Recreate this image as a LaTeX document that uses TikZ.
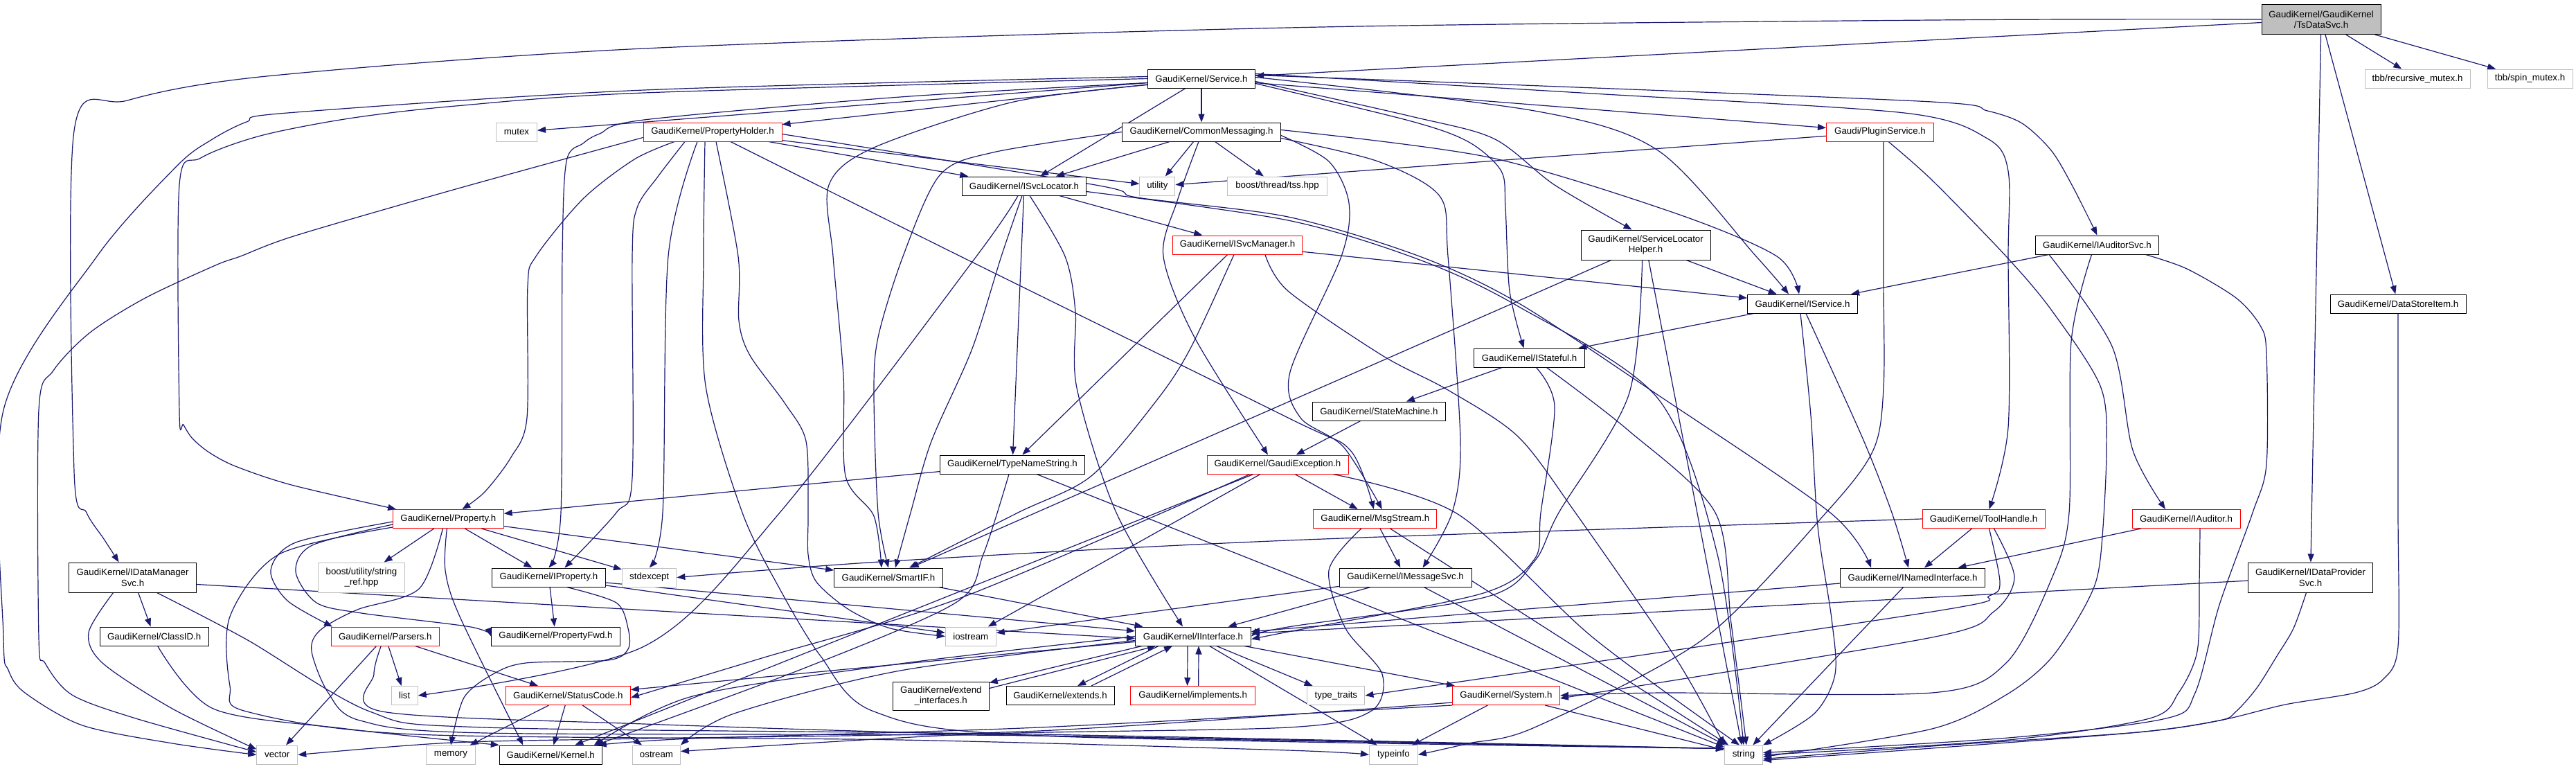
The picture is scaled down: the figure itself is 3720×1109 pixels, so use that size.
\documentclass[tikz,border=0pt]{standalone}
\usepackage{fontspec}
\setmainfont{Liberation Sans}
\usetikzlibrary{arrows.meta,backgrounds}
\definecolor{midnight}{RGB}{25,25,112}
\definecolor{grey75}{RGB}{191,191,191}
\begin{document}
\begin{tikzpicture}[x=1pt, y=-1pt,
    box/.style={draw=black, fill=white, line width=1pt, minimum width=#1, minimum height=27pt,
        inner sep=0pt, align=center, font=\fontsize{13.3}{15.5}\selectfont},
    redbox/.style={box=#1, draw=red},
    sysbox/.style={box=#1, draw=grey75},
    rootbox/.style={box=#1, fill=grey75},
    tall/.style={minimum height=43pt},
    dep/.style={draw=midnight, line width=1.2pt, -{Triangle[length=12pt,width=9pt]}}]
    \useasboundingbox (0,0) rectangle (3720,1109);
    \node[rootbox=172, tall] (ts) at (3352,28) {GaudiKernel/GaudiKernel\\/TsDataSvc.h};
    \node[box=155] (service) at (1735,113.5) {GaudiKernel/Service.h};
    \node[sysbox=152] (recmutex) at (3491,113.5) {tbb/recursive\_mutex.h};
    \node[sysbox=123] (spinmutex) at (3653.5,113.5) {tbb/spin\_mutex.h};
    \node[sysbox=59] (mutex) at (746,190.5) {mutex};
    \node[redbox=200] (pholder) at (1029,190.5) {GaudiKernel/PropertyHolder.h};
    \node[box=229] (cmsg) at (1735,190.5) {GaudiKernel/CommonMessaging.h};
    \node[redbox=155] (plugin) at (2715,190.5) {Gaudi/PluginService.h};
    \node[box=179] (svcloc) at (1479,268.5) {GaudiKernel/ISvcLocator.h};
    \node[sysbox=51] (utility) at (1671.4,268.5) {utility};
    \node[sysbox=143.5] (tss) at (1844.5,268.5) {boost/thread/tss.hpp};
    \node[redbox=187.5] (ismgr) at (1787,353.5) {GaudiKernel/ISvcManager.h};
    \node[box=187, tall] (slh) at (2376.6,353.5) {GaudiKernel/ServiceLocator\\Helper.h};
    \node[box=178] (auditorsvc) at (3028.5,353.5) {GaudiKernel/IAuditorSvc.h};
    \node[box=159] (iservice) at (2603,438.5) {GaudiKernel/IService.h};
    \node[box=196] (datastore) at (3463,438.5) {GaudiKernel/DataStoreItem.h};
    \node[box=159.5] (istateful) at (2208.5,516.5) {GaudiKernel/IStateful.h};
    \node[box=191.6] (statemachine) at (1991.4,593.5) {GaudiKernel/StateMachine.h};
    \node[box=209] (typename) at (1462,670.5) {GaudiKernel/TypeNameString.h};
    \node[redbox=204] (gaudiexc) at (1845,670.5) {GaudiKernel/GaudiException.h};
    \node[redbox=159.5] (property) at (647.4,749) {GaudiKernel/Property.h};
    \node[redbox=178] (msgstream) at (1985.8,749) {GaudiKernel/MsgStream.h};
    \node[redbox=177] (toolhandle) at (2864.5,749) {GaudiKernel/ToolHandle.h};
    \node[redbox=156] (iauditor) at (3157,749) {GaudiKernel/IAuditor.h};
    \node[box=184, tall] (datamgr) at (191.6,833.5) {GaudiKernel/IDataManager\\Svc.h};
    \node[sysbox=124.5, tall] (stringref) at (522,833.5) {boost/utility/string\\\_ref.hpp};
    \node[box=164] (iproperty) at (792.4,833.5) {GaudiKernel/IProperty.h};
    \node[sysbox=78.4] (stdexcept) at (937.7,833.5) {stdexcept};
    \node[box=156.6] (smartif) at (1283,833.5) {GaudiKernel/SmartIF.h};
    \node[box=191] (imsgsvc) at (2029.6,833.5) {GaudiKernel/IMessageSvc.h};
    \node[box=209] (inamed) at (2762,833.5) {GaudiKernel/INamedInterface.h};
    \node[box=180, tall] (dataprov) at (3336.5,833.5) {GaudiKernel/IDataProvider\\Svc.h};
    \node[box=157] (classid) at (222.7,918.5) {GaudiKernel/ClassID.h};
    \node[redbox=155.4] (parsers) at (556.3,918.5) {GaudiKernel/Parsers.h};
    \node[box=186] (propfwd) at (802.5,918.5) {GaudiKernel/PropertyFwd.h};
    \node[sysbox=73] (iostream) at (1401.8,918.5) {iostream};
    \node[box=167] (iinterface) at (1723,918.5) {GaudiKernel/IInterface.h};
    \node[sysbox=38] (list) at (584.2,1004) {list};
    \node[redbox=180] (statuscode) at (820.3,1004) {GaudiKernel/StatusCode.h};
    \node[box=139, minimum height=41pt] (extendint) at (1358.8,1004.5) {GaudiKernel/extend\\\_interfaces.h};
    \node[box=156] (extends) at (1531,1004) {GaudiKernel/extends.h};
    \node[redbox=180] (implements) at (1722.7,1004) {GaudiKernel/implements.h};
    \node[sysbox=83] (typetraits) at (1929.4,1004) {type\_traits};
    \node[redbox=155] (system) at (2175,1004) {GaudiKernel/System.h};
    \node[sysbox=59] (vector) at (400.3,1089.5) {vector};
    \node[sysbox=70.6] (memory) at (651,1089.5) {memory};
    \node[box=148] (kernel) at (795.3,1089.5) {GaudiKernel/Kernel.h};
    \node[sysbox=69] (ostream) at (948,1089.5) {ostream};
    \node[sysbox=70] (typeinfo) at (2012.4,1089.5) {typeinfo};
    \node[sysbox=55] (string) at (2518,1089.5) {string};
    \begin{pgfonlayer}{background}
    \foreach \a/\b in {ts/service, ts/recmutex, ts/spinmutex, ts/datastore, ts/dataprov,
        service/mutex, service/pholder, service/cmsg, service/plugin, service/svcloc,
        pholder/svcloc, pholder/utility, cmsg/svcloc, cmsg/utility, cmsg/tss, plugin/utility,
        svcloc/ismgr, svcloc/typename, ismgr/iservice, ismgr/typename,
        slh/iservice, slh/smartif, slh/string, auditorsvc/iservice, iservice/istateful,
        istateful/statemachine, statemachine/gaudiexc, gaudiexc/msgstream, gaudiexc/iostream,
        gaudiexc/kernel, msgstream/imsgsvc, msgstream/string, imsgsvc/iinterface,
        imsgsvc/iostream, imsgsvc/string, toolhandle/inamed, iauditor/inamed,
        inamed/iinterface, inamed/string, dataprov/iinterface, datamgr/classid,
        typename/property, typename/string, property/stringref, property/iproperty,
        property/stdexcept, property/smartif, iproperty/propfwd, iproperty/iinterface,
        iproperty/iostream, smartif/iinterface, parsers/vector, parsers/list,
        parsers/statuscode, statuscode/memory, statuscode/kernel, statuscode/ostream,
        iinterface/typetraits, iinterface/system, iinterface/typeinfo, iinterface/statuscode,
        system/typeinfo, system/string}
        \draw[dep] (\a) -- (\b);
    \draw[dep] ([yshift=-10pt]datamgr.east) -- ([yshift=-3pt]iinterface.west);
    \draw[dep] ([xshift=-8pt]iinterface.south) -- ([xshift=-8pt]implements.north);
    \draw[dep] ([xshift=8pt]implements.north) -- ([xshift=8pt]iinterface.south);
    \draw[dep] ([xshift=-50pt]iinterface.south) -- ([xshift=25pt]extends.north);
    \draw[dep] ([xshift=45pt]extends.north) -- ([xshift=-30pt]iinterface.south);
    \draw[dep] ([xshift=10pt]iinterface.south west) -- ([yshift=-2pt]extendint.north east);
    \draw[dep] ([yshift=-10pt]extendint.north east) -- ([xshift=30pt]iinterface.south west);
    \draw[dep] plot[smooth] coordinates {(ts.west) (2790,29) (1860,40) (930,70) (385,110)
        (184,145) (107,189) (107,680) (125,740) (150,778) ([xshift=-20pt]datamgr.north)};
    \draw[dep] plot[smooth] coordinates {([yshift=3pt]service.west) (930,130) (415,163)
        (356,176) (305,202) (255,240) (140,370) (5,592) (5,920) (12,967) (36,1000) (119,1047)
        (249,1073) (vector.west)};
    \draw[dep] plot[smooth] coordinates {(service.west) (930,134) (658,153) (504,171) (376,196)
        (290,228) (259,267) (259,595) (265,613) (278,633) (302,653) (340,673) (421,700)
        ([xshift=5pt]property.north west)};
    \draw[dep] plot[smooth] coordinates {([yshift=-6pt]service.west) (1300,140) (930,173)
        (866,193) (842,207) (818,233) (812,370) (810,740) (iproperty.north)};
    \draw[dep] plot[smooth] coordinates {([yshift=-9pt]service.west) (1464,147) (1262,213)
        (1197,267) (1203,370) (1218,543) (1221,687) (1262,745) ([xshift=-10pt]smartif.north)};
    \draw[dep] plot[smooth] coordinates {([yshift=-4pt]service.east) (2038,168) (2157,200)
        (2245,267) ([xshift=-20pt]slh.north)};
    \draw[dep] plot[smooth] coordinates {([yshift=2pt]service.east) (2216,160) (2394,217)
        (2536,370) ([xshift=-20pt]iservice.north)};
    \draw[dep] plot[smooth] coordinates {([yshift=-7pt]service.east) (2038,175) (2121,205)
        (2168,247) (2174,300) (2180,420) ([xshift=-8pt]istateful.north)};
    \draw[dep] plot[smooth] coordinates {([yshift=5pt]service.east) (2200,123) (2790,147)
        (2870,160) (2920,178) (2962,217) (2992,267) (auditorsvc.north)};
    \draw[dep] plot[smooth] coordinates {([yshift=7pt]service.east) (2300,135) (2750,163)
        (2870,200) (2900,247) (2900,370) (2900,617) ([xshift=8pt]toolhandle.north)};
    \draw[dep] plot[smooth] coordinates {([yshift=-8pt]pholder.west) (658,273) (427,340)
        (347,370) (311,383) (210,430) (130,480) (77,535) (56,592) (56,920) (65,957) (104,1003)
        (196,1037) ([yshift=4pt]vector.west)};
    \draw[dep] plot[smooth] coordinates {([xshift=-55pt]pholder.south) (916,230) (842,287)
        (774,370) (762,413) (761,603) (738,660) (700,710) ([xshift=20pt]property.north)};
    \draw[dep] plot[smooth] coordinates {([xshift=-40pt]pholder.south) (950,255) (920,300)
        (913,370) (913,690) (890,740) ([xshift=23pt]iproperty.north)};
    \draw[dep] plot[smooth] coordinates {([xshift=-22pt]pholder.south) (965,370) (957,740)
        (stdexcept.north)};
    \draw[dep] plot[smooth] coordinates {([xshift=-11pt]pholder.south) (1016,370) (1019,557)
        (1072,740) (1126,850) (1185,947) (1262,1027) (1500,1062) ([yshift=9pt]string.west)};
    \draw[dep] plot[smooth] coordinates {([xshift=5pt]pholder.south) (1066,370) (1067,463)
        (1083,513) (1134,583) (1164,637) (1167,740) (1167,800) (1179,840) (1226,880) (1286,907)
        (iostream.west)};
    \draw[dep] plot[smooth] coordinates {([xshift=26pt]pholder.south) (1387,370) (1860,603)
        (1950,650) ([xshift=-2pt]msgstream.north)};
    \draw[dep] plot[smooth] coordinates {([yshift=-3pt]pholder.east) (1582,267) (1642,285)
        (1860,313) (2050,370) (2192,437) (2394,570) (2643,740) ([xshift=-60pt]inamed.north)};
    \draw[dep] plot[smooth] coordinates {([yshift=3pt]cmsg.east) (2150,227) (2417,307)
        (2566,370) ([xshift=-5pt]iservice.north)};
    \draw[dep] plot[smooth] coordinates {([yshift=-5pt]cmsg.east) (1919,233) (1948,293)
        (1937,370) (1863,537) (1878,603) (1940,645) ([xshift=10pt]msgstream.north)};
    \draw[dep] plot[smooth] coordinates {([yshift=-9pt]cmsg.east) (1990,233) (2079,283)
        (2091,370) (2109,637) (2097,740) ([xshift=25pt]imsgsvc.north)};
    \draw[dep] plot[smooth] coordinates {([xshift=-4pt]cmsg.south) (1700,290) (1680,370)
        (1725,487) ([xshift=-14pt]gaudiexc.north)};
    \draw[dep] plot[smooth] coordinates {(cmsg.west) (1434,220) (1357,253) (1304,370)
        (1268,487) (1262,570) (1268,740) (smartif.north)};
    \draw[dep] plot[smooth] coordinates {([xshift=12pt]plugin.south) (2790,260) (2897,370)
        (2962,447) (3033,557) (3042,650) (3033,807) (3015,867) (2962,950) (2897,1003)
        (2790,1052) ([yshift=-3pt]string.east)};
    \draw[dep] plot[smooth] coordinates {([xshift=5pt]plugin.south) (2720,400) (2720,560)
        (2705,650) (2637,740) (2459,923) (2216,1050) (2121,1073) (typeinfo.east)};
    \draw[dep] plot[smooth] coordinates {([xshift=-3pt]svcloc.south) (1446,370) (1404,503)
        (1345,637) (1315,740) ([xshift=10pt]smartif.north)};
    \draw[dep] plot[smooth] coordinates {([xshift=8pt]svcloc.south) (1538,370) (1553,450)
        (1555,560) (1612,740) ([xshift=-15pt]iinterface.north)};
    \draw[dep] plot[smooth] coordinates {([xshift=-9pt]svcloc.south) (1410,370) (1126,740)
        (930,933) (list.east)};
    \draw[dep] plot[smooth] coordinates {([yshift=-8pt]svcloc.east) (1860,318) (2050,375)
        (2192,442) (2394,575) (2480,800) (string.north)};
    \draw[dep] plot[smooth] coordinates {([xshift=-5pt]ismgr.south) (1719,503) (1671,577)
        (1576,687) (1470,740) ([xshift=30pt]smartif.north)};
    \draw[dep] plot[smooth] coordinates {([xshift=40pt]ismgr.south) (1860,420) (1996,513)
        (2091,563) (2192,630) (2275,740) (2420,950) (string.north west)};
    \draw[dep] plot[smooth] coordinates {([xshift=-5pt]slh.south) (2352,570) (2251,740)
        (2216,810) (2145,862) (1860,905) (iinterface.east)};
    \draw[dep] plot[smooth] coordinates {([xshift=70pt]auditorsvc.south) (3158,388) (3229,430)
        (3264,470) (3273,510) (3273,670) (3253,740) (3205,873) (3170,1000) (3128,1037)
        (2900,1065) ([yshift=3pt]string.east)};
    \draw[dep] plot[smooth] coordinates {([xshift=-8pt]auditorsvc.south) (2991,493) (2988,740)
        (2962,837) (2897,957) (2790,1000) (2400,1000) (system.east)};
    \draw[dep] plot[smooth] coordinates {([xshift=20pt]auditorsvc.south west) (3050,500)
        (3080,650) ([xshift=-30pt]iauditor.north)};
    \draw[dep] plot[smooth] coordinates {([xshift=20pt]iauditor.south) (3176,840) (3173,940)
        (3146,1000) (3104,1037) (2900,1068) (string.east)};
    \draw[dep] plot[smooth] coordinates {([xshift=-6pt]dataprov.south) (3312,907) (3288,947)
        (3259,993) (3229,1027) (3205,1040) (3087,1057) (2790,1077) ([yshift=-6pt]string.east)};
    \draw[dep] plot[smooth] coordinates {(datastore.south) (3463,740) (3463,933) (3442,980)
        (3401,1000) (3300,1017) (3205,1040) (3087,1057) (2790,1080) ([yshift=-8pt]string.east)};
    \draw[dep] plot[smooth] coordinates {(toolhandle.west) (1860,780) (1286,810)
        (stdexcept.east)};
    \draw[dep] plot[smooth] coordinates {([xshift=8pt]toolhandle.south) (2888,840) (2873,860)
        (2790,883) (typetraits.east)};
    \draw[dep] plot[smooth] coordinates {([xshift=15pt]toolhandle.south) (2909,833)
        (2879,883) (2790,920) ([yshift=-4pt]system.east)};
    \draw[dep] plot[smooth] coordinates {([xshift=5pt]iservice.south) (2690,633) (2732,740)
        ([xshift=-6pt]inamed.north)};
    \draw[dep] plot[smooth] coordinates {([xshift=-3pt]iservice.south) (2615,600) (2625,760)
        (2645,893) (2650,973) (2620,1030) (string.north east)};
    \draw[dep] plot[smooth] coordinates {([xshift=10pt]istateful.south) (2245,587) (2225,740)
        (2216,807) (2139,857) (1860,912) ([yshift=-4pt]iinterface.east)};
    \draw[dep] plot[smooth] coordinates {([xshift=25pt]istateful.south) (2350,620) (2477,740)
        (2500,900) ([xshift=4pt]string.north)};
    \draw[dep] plot[smooth] coordinates {([xshift=80pt]gaudiexc.south) (2105,742) (2300,920)
        ([xshift=-6pt]string.north)};
    \draw[dep] plot[smooth] coordinates {([xshift=-40pt]gaudiexc.south) (1390,862) (1100,950)
        ([yshift=-3pt]statuscode.east)};
    \draw[dep] plot[smooth] coordinates {([xshift=-20pt]msgstream.south) (1919,823) (1943,907)
        (1996,973) (1979,1027) (1860,1050) (1400,1060) ([yshift=5pt]ostream.east)};
    \draw[dep] plot[smooth] coordinates {([xshift=-5pt]typename.south) (1420,800) (1380,870)
        (1160,965) ([xshift=-10pt]kernel.north east)};
    \draw[dep] plot[smooth] coordinates {([xshift=26pt]iproperty.south) (890,870) (907,907)
        (907,937) (878,953) (759,957) (712,973) (670,1007) (memory.north)};
    \draw[dep] plot[smooth] coordinates {([yshift=-4pt]property.west) (427,783) (391,823)
        (415,867) ([xshift=2pt]parsers.north west)};
    \draw[dep] plot[smooth] coordinates {([yshift=-8pt]property.west) (451,787) (427,825)
        (457,870) (522,885) (680,905) (propfwd.west)};
    \draw[dep] plot[smooth] coordinates {([xshift=-2pt]property.south) (643,823) (664,890)
        ([xshift=-40pt]kernel.north)};
    \draw[dep] plot[smooth] coordinates {([yshift=-12pt]property.west) (403,800) (332,890)
        (332,990) (356,1027) (600,1060) (1300,1068) (1860,1083) (typeinfo.west)};
    \draw[dep] plot[smooth] coordinates {([xshift=-8pt]property.south) (605,850) (516,880)
        (462,910) (450,940) (474,1000) (520,1040) (700,1058) (1500,1062)
        ([yshift=9pt]string.west)};
    \draw[dep] plot[smooth] coordinates {([xshift=-28pt]datamgr.south) (128,913) (148,957)
        (249,1023) ([yshift=8pt]vector.west)};
    \draw[dep] plot[smooth] coordinates {([xshift=35pt]datamgr.south) (356,923) (534,1027)
        (700,1050) (1500,1060) ([yshift=9pt]string.west)};
    \draw[dep] plot[smooth] coordinates {([xshift=5pt]classid.south) (308,1023) (500,1052)
        (kernel.north west)};
    \draw[dep] plot[smooth] coordinates {([xshift=-6pt]parsers.south) (540,973) (552,1027)
        (930,1045) (1500,1062) ([yshift=9pt]string.west)};
    \draw[dep] plot[smooth] coordinates {(iinterface.west) (1300,958) (1000,1005)
        ([xshift=-12pt]kernel.north east)};
    \draw[dep] plot[smooth] coordinates {([yshift=-6pt]iinterface.west) (1300,968) (1060,1030)
        (ostream.north east)};
    \draw[dep] plot[smooth] coordinates {(system.south west) (1500,1050) (1000,1066)
        ([xshift=-6pt]kernel.north east)};
    \draw[dep] plot[smooth] coordinates {([yshift=4pt]system.south west) (1500,1055) (930,1066)
        (652,1072) (vector.east)};
    \end{pgfonlayer}
\end{tikzpicture}
\end{document}
